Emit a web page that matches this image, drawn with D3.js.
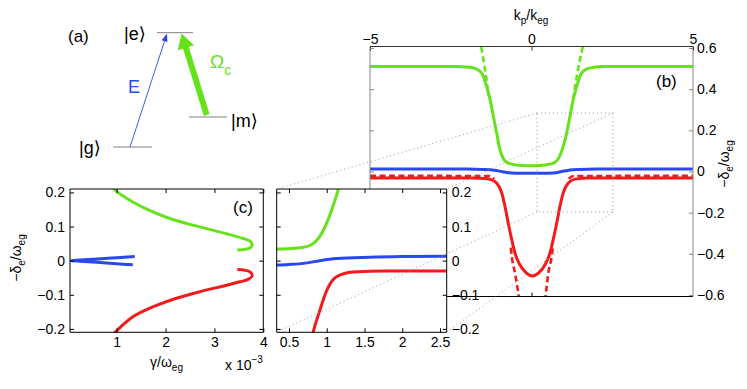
<!DOCTYPE html>
<html>
<head>
<meta charset="utf-8">
<script src="https://cdn.jsdelivr.net/npm/d3@7"></script>
<style>
  body { margin: 0; background: #fff; }
  svg { display: block; font-family: "Liberation Sans", Arial, "DejaVu Sans", sans-serif; }
</style>
</head>
<body>
<svg width="747" height="389"></svg>
<script>
// Curve colours
const GREEN = "#66e21c";
const BLUE = "#2a48f2";
const RED = "#f21a1a";

// Panel (b): points are [k_p/k_eg, -delta_e/omega_eg]
const bGreen = [[-5, 0.51], [-2.4, 0.51], [-1.9, 0.506], [-1.75, 0.501], [-1.54, 0.478], [-1.39, 0.413],
  [-1.28, 0.348], [-1.18, 0.267], [-1.08, 0.187], [-0.975, 0.105], [-0.87, 0.062], [-0.72, 0.041],
  [-0.3, 0.029], [0.11, 0.028], [0.62, 0.037], [0.8, 0.055], [0.9, 0.085], [0.98, 0.121], [1.09, 0.187],
  [1.19, 0.267], [1.29, 0.348], [1.40, 0.413], [1.55, 0.478], [1.76, 0.501], [2.2, 0.51], [5, 0.51]];
const bBlue = [[-5, 0.012], [-2, 0.012], [-1.5, 0.010], [-1.15, 0.006], [-0.9, -0.001], [-0.7, -0.006],
  [-0.3, -0.009], [0.3, -0.009], [0.7, -0.007], [0.9, -0.001], [1.15, 0.006], [1.5, 0.010], [2, 0.012], [5, 0.012]];
const bRed = [[-5, -0.032], [-1.8, -0.032], [-1.45, -0.034], [-1.28, -0.038], [-1.08, -0.056], [-0.92, -0.105],
  [-0.82, -0.170], [-0.72, -0.251], [-0.61, -0.332], [-0.51, -0.397], [-0.36, -0.453], [-0.15, -0.494],
  [0.02, -0.507], [0.21, -0.494], [0.42, -0.453], [0.57, -0.397], [0.67, -0.332], [0.78, -0.251],
  [0.88, -0.170], [0.98, -0.105], [1.14, -0.056], [1.35, -0.037], [1.8, -0.032], [5, -0.032]];
// uncoupled (dashed) branches, only the parts that show
const bGreenDash = [
  [[-1.62, 0.65], [-1.56, 0.607], [-1.49, 0.543], [-1.42, 0.478], [-1.33, 0.37]],
  [[1.29, 0.35], [1.42, 0.478], [1.50, 0.543], [1.585, 0.607], [1.62, 0.65]]
];
const bRedDash = [
  [[-5, -0.021], [-1.3, -0.022], [-1.15, -0.035]],
  [[-0.64, -0.37], [-0.61, -0.413], [-0.51, -0.494], [-0.44, -0.559], [-0.37, -0.63]],
  [[0.42, -0.63], [0.47, -0.559], [0.52, -0.494], [0.625, -0.413], [0.66, -0.37]],
  [[1.15, -0.035], [1.3, -0.022], [5, -0.021]]
];
const bTopTicks = [-5, 0, 5];
const bYTicks = [-0.6, -0.4, -0.2, 0, 0.2, 0.4, 0.6];
// zoomed window of (b) shown in the inset
const zoomK = [0.17, 2.52];
const zoomD = [-0.197, 0.284];

// Inset: points are [k_p/k_eg, -delta_e/omega_eg]
const iGreen = [[0.3, 0.034], [0.5, 0.035], [0.69, 0.039], [0.82, 0.050], [0.9, 0.068], [0.955, 0.089],
  [1.065, 0.148], [1.153, 0.21], [1.18, 0.235]];
const iBlue = [[0.3, -0.013], [0.5, -0.011], [0.69, -0.008], [0.91, 0.0], [1.13, 0.006], [1.57, 0.010],
  [2.0, 0.012], [2.6, 0.013]];
const iRed = [[0.80, -0.23], [0.82, -0.21], [0.91, -0.145], [1.0, -0.087], [1.13, -0.047], [1.35, -0.033],
  [1.79, -0.030], [2.6, -0.030]];
const iXTicks = [0.5, 1, 1.5, 2, 2.5];

// Panel (c): points are [gamma/omega_eg (x 1e-3), -delta_e/omega_eg]
const cGreen = [[0.93, 0.215], [0.965, 0.207], [1.34, 0.171], [1.75, 0.142], [2.16, 0.120], [2.70, 0.099],
  [3.25, 0.079], [3.59, 0.065], [3.73, 0.057], [3.77, 0.048], [3.74, 0.038], [3.62, 0.033], [3.47, 0.031]];
const cRed = [[0.93, -0.215], [0.965, -0.21], [1.34, -0.164], [1.75, -0.135], [2.16, -0.113], [2.70, -0.091],
  [3.25, -0.072], [3.52, -0.062], [3.69, -0.055], [3.77, -0.045], [3.74, -0.034], [3.62, -0.028], [3.47, -0.026]];
const cBlue = [[1.37, 0.012], [1.0, 0.0085], [0.6, 0.005], [0.25, 0.002], [0.06, 0.0], [0.25, -0.002],
  [0.6, -0.005], [1.0, -0.009], [1.33, -0.012]];
const cXTicks = [1, 2, 3, 4];
const sharedYTicks = [-0.2, -0.1, 0, 0.1, 0.2];

const svg = d3.select("svg");
const defs = svg.append("defs");

const fmt = d => (d === 0 ? "0" : d3.format("~g")(d));
const fmt1 = d => (d === 0 ? "0" : d3.format(".1f")(d));

// Scales for each panel
const bx = d3.scaleLinear().domain([-5, 5]).range([370, 693]);
const by = d3.scaleLinear().domain([-0.607, 0.607]).range([296.5, 46.5]);
const ix = d3.scaleLinear().domain([0.337, 2.589]).range([276.7, 446.7]);
const iy = d3.scaleLinear().domain([-0.21, 0.21]).range([332.3, 189]);
const cx = d3.scaleLinear().domain([0.045, 4]).range([70, 263.3]);
const cy = d3.scaleLinear().domain([-0.21, 0.21]).range([332.3, 189]);

function clipFor(id, x, y) {
  defs.append("clipPath").attr("id", id).append("rect")
    .attr("x", x.range()[0]).attr("y", y.range()[1])
    .attr("width", x.range()[1] - x.range()[0])
    .attr("height", y.range()[0] - y.range()[1]);
  return `url(#${id})`;
}

function drawCurve(g, pts, x, y, color, opts = {}) {
  const line = d3.line().x(d => x(d[0])).y(d => y(d[1]))
    .curve(opts.curve || d3.curveMonotoneX);
  g.append("path")
    .attr("d", line(pts))
    .attr("fill", "none")
    .attr("stroke", color)
    .attr("stroke-width", opts.width || 3)
    .attr("stroke-linejoin", "round")
    .attr("stroke-dasharray", opts.dash || null);
}

// Attach a d3 axis with inward ticks, no domain line
function addAxis(g, gen, tx, ty, color, labels) {
  const a = g.append("g").attr("transform", `translate(${tx},${ty})`).call(gen);
  a.attr("font-family", null).attr("font-size", 14);
  a.select(".domain").remove();
  a.selectAll(".tick line").attr("stroke", color);
  a.selectAll(".tick text").attr("fill", "#000");
  if (!labels) a.selectAll(".tick text").remove();
  return a;
}

function spine(g, x1, y1, x2, y2, color) {
  g.append("line").attr("x1", x1).attr("y1", y1).attr("x2", x2).attr("y2", y2)
    .attr("stroke", color).attr("stroke-width", 1);
}

// Rich text helper: parts = [[text, size, dy], ...]
function richText(g, x, y, parts, anchor, fill, rotate) {
  const t = g.append("text")
    .attr("text-anchor", anchor || "start")
    .attr("fill", fill || "#000")
    .attr("transform", `translate(${x},${y})` + (rotate ? ` rotate(${rotate})` : ""));
  parts.forEach(p => t.append("tspan").attr("font-size", p[1]).attr("dy", p[2] || 0).text(p[0]));
  return t;
}

// ---------------- Panel (b) ----------------
const gB = svg.append("g");
const bClip = clipFor("clipB", bx, by);
const bCurves = gB.append("g").attr("clip-path", bClip);
bGreenDash.forEach(seg => drawCurve(bCurves, seg, bx, by, GREEN, { dash: "6,3.5", width: 2.6 }));
bRedDash.forEach(seg => drawCurve(bCurves, seg, bx, by, RED, { dash: "6,3.5", width: 2.6 }));
drawCurve(bCurves, bGreen, bx, by, GREEN);
drawCurve(bCurves, bBlue, bx, by, BLUE);
drawCurve(bCurves, bRed, bx, by, RED);

const [bx0, bx1] = bx.range();
const [by0, by1] = by.range();
spine(gB, bx0, by1, bx1, by1, "#333");
spine(gB, bx0, by0, bx1, by0, "#000");
spine(gB, bx0, by1, bx0, by0, "#888");
spine(gB, bx1, by1, bx1, by0, "#888");

addAxis(gB, d3.axisTop(bx).tickValues(bTopTicks).tickFormat(fmt).tickSizeInner(-4).tickSizeOuter(0).tickPadding(3),
  0, by1, "#333", true);
addAxis(gB, d3.axisBottom(bx).tickValues([0]).tickSizeInner(-4).tickSizeOuter(0), 0, by0, "#000", false);
addAxis(gB, d3.axisRight(by).tickValues(bYTicks).tickFormat(fmt1).tickSizeInner(-4).tickSizeOuter(0).tickPadding(4),
  bx1, 0, "#888", true);
addAxis(gB, d3.axisLeft(by).tickValues(bYTicks).tickSizeInner(-4).tickSizeOuter(0), bx0, 0, "#888", false);

richText(gB, 531, 20, [["k", 14], ["p", 10, 4], ["/k", 14, -4], ["eg", 10, 4]], "middle");
richText(gB, 728.5, 164, [["\u2212\u03b4", 14], ["e", 10, 4], ["/\u03c9", 14, -4], ["eg", 10, 4]], "middle", "#000", -90);
richText(gB, 656, 87, [["(b)", 17]]);

// ---------------- Inset (zoom of b) ----------------
const gI = svg.append("g");
const [ix0, ix1] = ix.range();
const [iy0, iy1] = iy.range();
gI.append("rect").attr("x", ix0).attr("y", iy1).attr("width", ix1 - ix0).attr("height", iy0 - iy1).attr("fill", "#fff");
const iCurves = gI.append("g").attr("clip-path", clipFor("clipI", ix, iy));
drawCurve(iCurves, iGreen, ix, iy, GREEN);
drawCurve(iCurves, iBlue, ix, iy, BLUE);
drawCurve(iCurves, iRed, ix, iy, RED);
spine(gI, ix0, iy1, ix1, iy1, "#000");
spine(gI, ix0, iy0, ix1, iy0, "#000");
spine(gI, ix0, iy1, ix0, iy0, "#000");
spine(gI, ix1, iy1, ix1, iy0, "#000");
addAxis(gI, d3.axisBottom(ix).tickValues(iXTicks).tickFormat(fmt).tickSizeInner(-4).tickSizeOuter(0).tickPadding(5),
  0, iy0, "#000", true);
addAxis(gI, d3.axisTop(ix).tickValues(iXTicks).tickSizeInner(-4).tickSizeOuter(0), 0, iy1, "#000", false);
addAxis(gI, d3.axisRight(iy).tickValues(sharedYTicks).tickFormat(fmt).tickSizeInner(-4).tickSizeOuter(0).tickPadding(5),
  ix1, 0, "#000", true);
addAxis(gI, d3.axisLeft(iy).tickValues(sharedYTicks).tickSizeInner(-4).tickSizeOuter(0), ix0, 0, "#000", false);

// ---------------- Panel (c) ----------------
const gC = svg.append("g");
const [cx0, cx1] = cx.range();
const [cy0, cy1] = cy.range();
const cCurves = gC.append("g").attr("clip-path", clipFor("clipC", cx, cy));
const cat = d3.curveCatmullRom.alpha(0.5);
drawCurve(cCurves, cGreen, cx, cy, GREEN, { curve: cat });
drawCurve(cCurves, cRed, cx, cy, RED, { curve: cat });
drawCurve(cCurves, cBlue, cx, cy, BLUE, { curve: cat });
spine(gC, cx0, cy1, cx1, cy1, "#000");
spine(gC, cx0, cy0, cx1, cy0, "#000");
spine(gC, cx0, cy1, cx0, cy0, "#000");
spine(gC, cx1, cy1, cx1, cy0, "#000");
addAxis(gC, d3.axisBottom(cx).tickValues(cXTicks).tickFormat(fmt).tickSizeInner(-4).tickSizeOuter(0).tickPadding(5),
  0, cy0, "#000", true);
addAxis(gC, d3.axisTop(cx).tickValues(cXTicks).tickSizeInner(-4).tickSizeOuter(0), 0, cy1, "#000", false);
addAxis(gC, d3.axisLeft(cy).tickValues(sharedYTicks).tickFormat(fmt).tickSizeInner(-4).tickSizeOuter(0).tickPadding(5),
  cx0, 0, "#000", true);
addAxis(gC, d3.axisRight(cy).tickValues(sharedYTicks).tickSizeInner(-4).tickSizeOuter(0), cx1, 0, "#000", false);

richText(gC, 166.5, 367, [["\u03b3/\u03c9", 14], ["eg", 10, 4]], "middle");
richText(gC, 225, 370, [["x 10", 14], ["\u22123", 10, -7]]);
richText(gC, 21, 258, [["\u2212\u03b4", 14], ["e", 10, 4], ["/\u03c9", 14, -4], ["eg", 10, 4]], "middle", "#000", -90);
richText(gC, 233, 213, [["(c)", 17]]);

// ---------------- Dotted zoom guides ----------------
const gZ = svg.append("g")
  .attr("fill", "none").attr("stroke", "#9a9a9a").attr("stroke-width", 1).attr("stroke-dasharray", "1,3");
gZ.append("rect")
  .attr("x", bx(zoomK[0])).attr("y", by(zoomD[1]))
  .attr("width", bx(zoomK[1]) - bx(zoomK[0])).attr("height", by(zoomD[0]) - by(zoomD[1]));
const guideEnds = [[0, 1], [1, 1], [0, 0], [1, 0]];
guideEnds.forEach(([i, j]) => {
  gZ.append("line")
    .attr("x1", bx(zoomK[i])).attr("y1", by(zoomD[j]))
    .attr("x2", ix.range()[i]).attr("y2", iy.range()[j === 1 ? 1 : 0]);
});

// ---------------- Panel (a): level scheme ----------------
const gA = svg.append("g");
const levelLines = [[113, 152, 147], [157, 193, 32.7], [189, 227, 117]];
levelLines.forEach(([x1, x2, y]) => spine(gA, x1, y, x2, y, "#808080"));

function arrow(g, from, to, width, headLen, headHalf, color) {
  const dx = to[0] - from[0], dy = to[1] - from[1];
  const L = Math.hypot(dx, dy), ux = dx / L, uy = dy / L, nx = -uy, ny = ux;
  const bx_ = to[0] - headLen * ux, by_ = to[1] - headLen * uy;
  g.append("line").attr("x1", from[0]).attr("y1", from[1]).attr("x2", bx_ + ux).attr("y2", by_ + uy)
    .attr("stroke", color).attr("stroke-width", width);
  g.append("path")
    .attr("d", `M${to[0]},${to[1]}L${bx_ + headHalf * nx},${by_ + headHalf * ny}L${bx_ - headHalf * nx},${by_ - headHalf * ny}Z`)
    .attr("fill", color);
}
arrow(gA, [130, 147], [167, 33.5], 0.9, 8, 3, BLUE);
arrow(gA, [206.7, 115], [181.5, 33.5], 6, 15, 8.5, GREEN);

richText(gA, 68, 42, [["(a)", 17]]);
richText(gA, 124, 39.5, [["|e\u27e9", 18]]);
richText(gA, 231, 127, [["|m\u27e9", 18]]);
richText(gA, 79, 154, [["|g\u27e9", 18]]);
richText(gA, 128, 93, [["E", 18]], "start", BLUE);
richText(gA, 210, 68, [["\u03a9", 19], ["c", 14, 7]], "start", GREEN);
</script>
</body>
</html>
